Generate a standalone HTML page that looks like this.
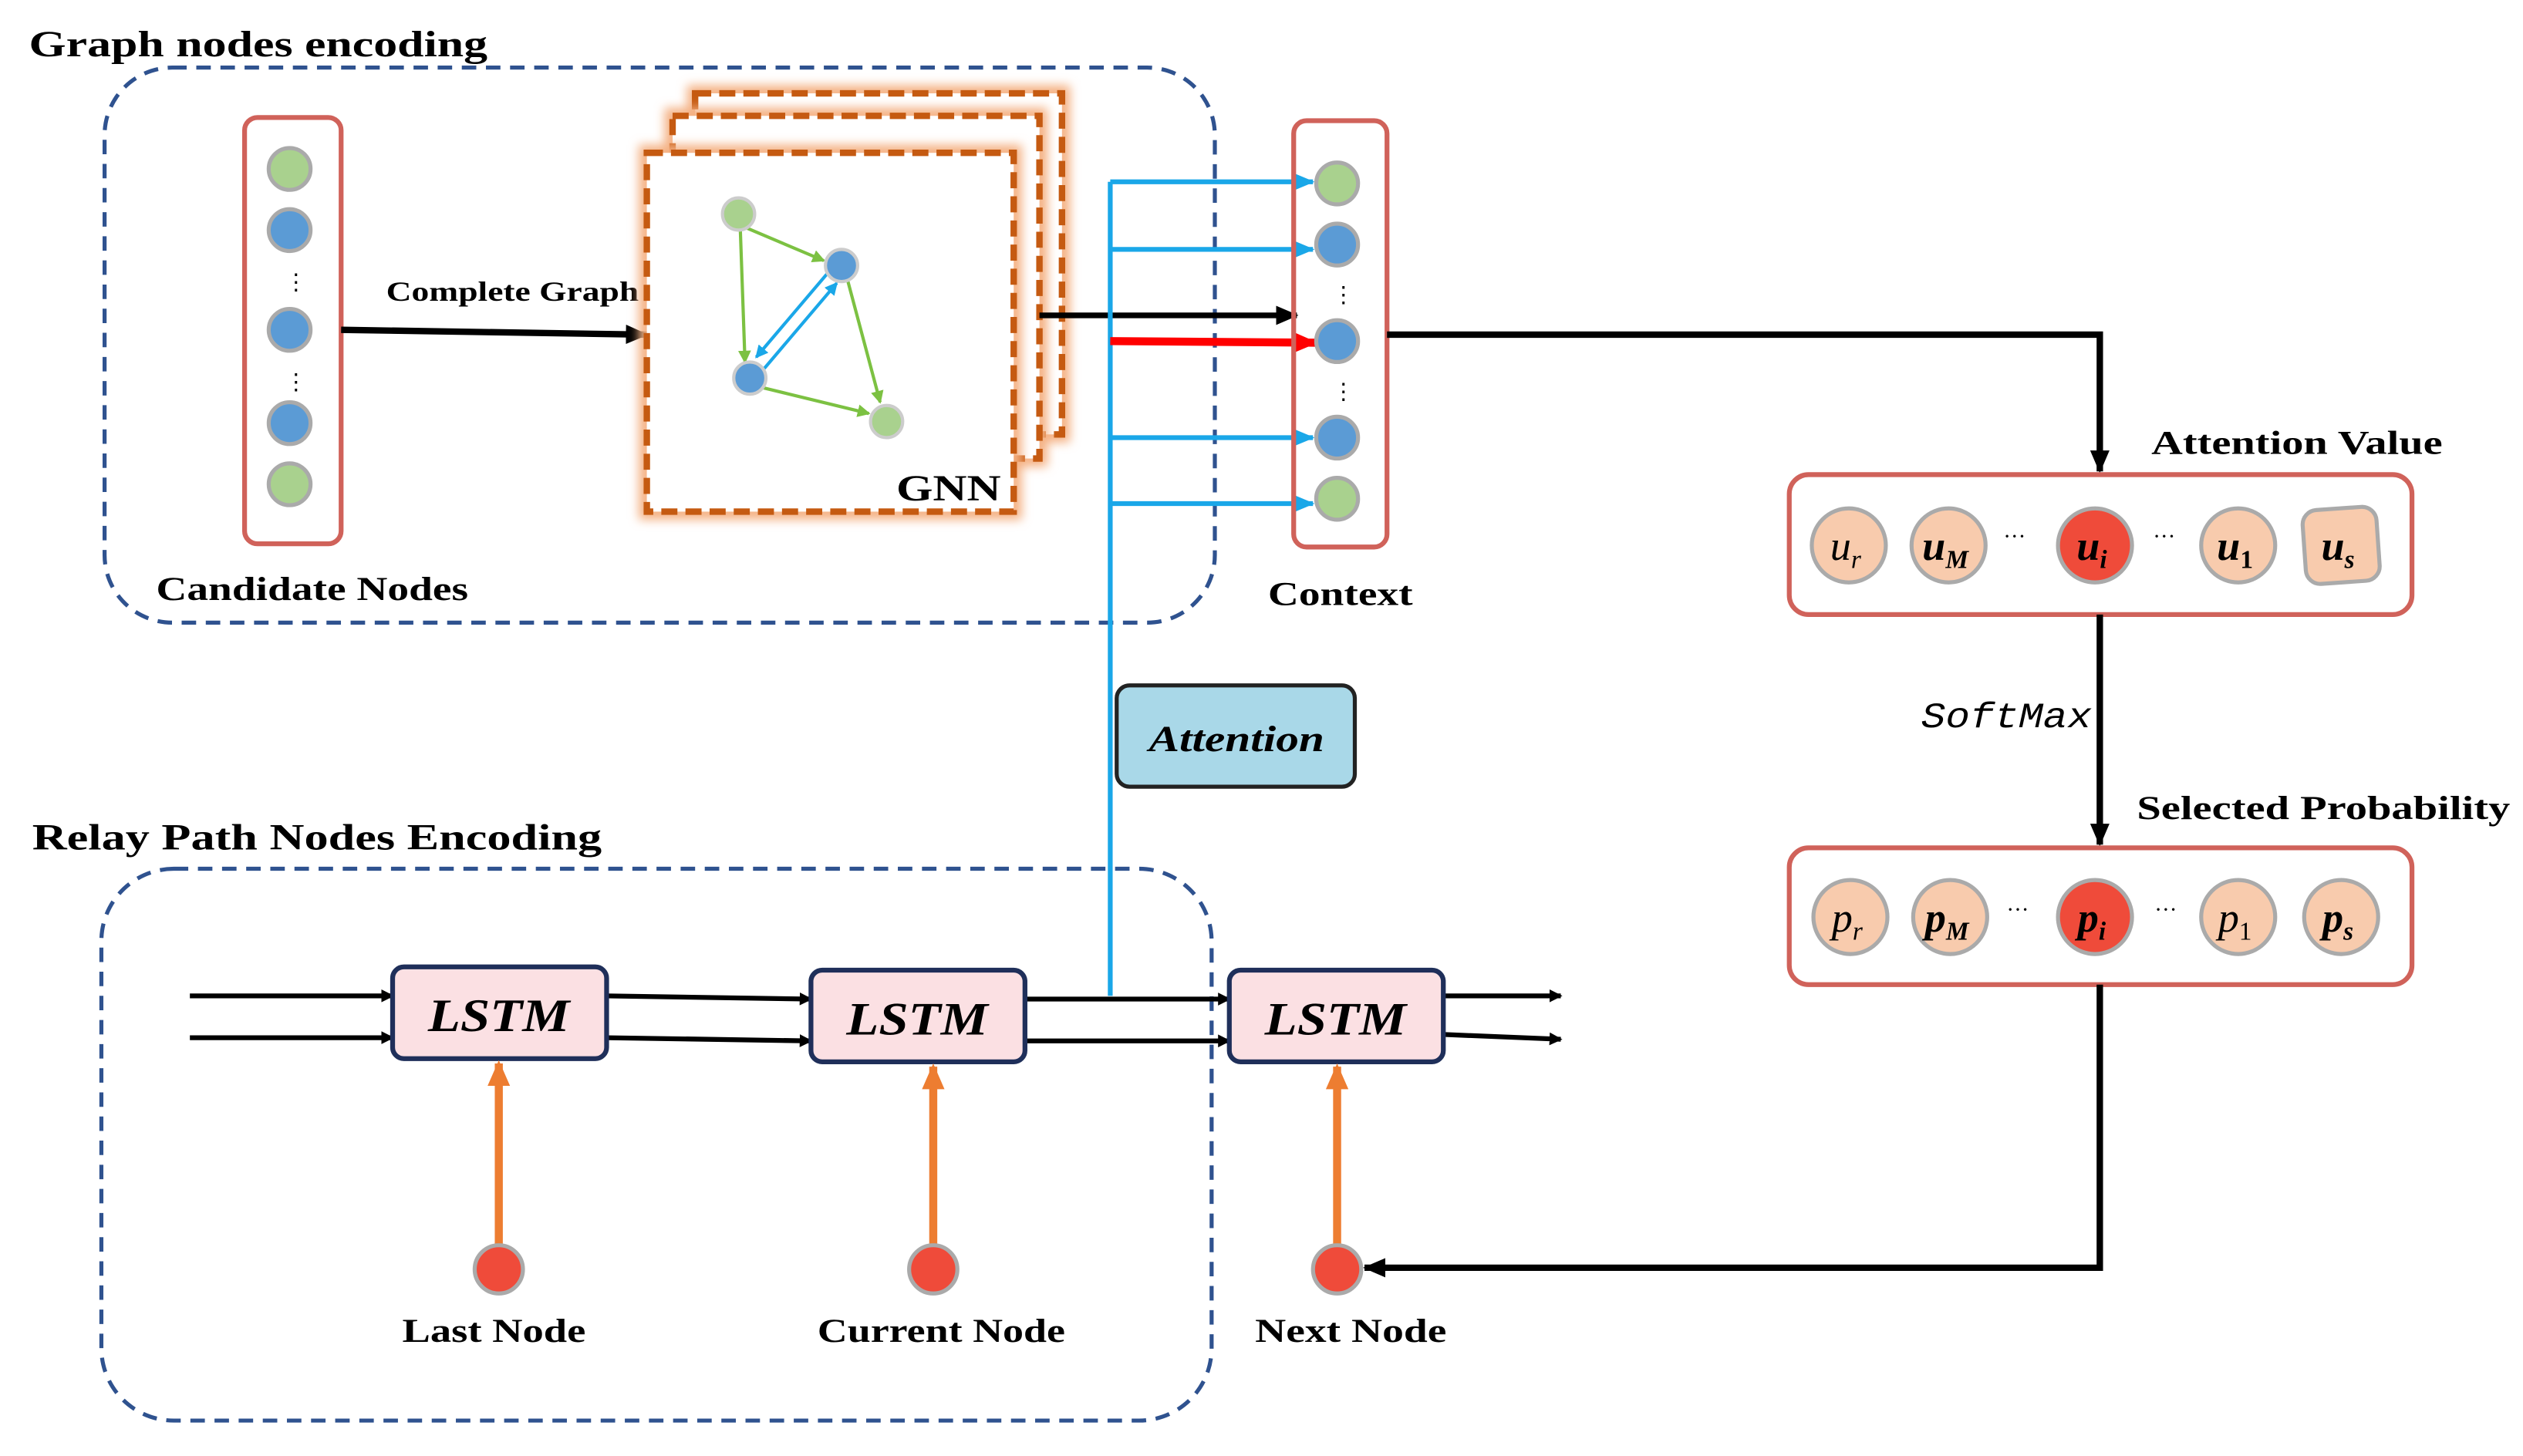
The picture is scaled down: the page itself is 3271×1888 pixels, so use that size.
<!DOCTYPE html>
<html><head><meta charset="utf-8"><style>
html,body{margin:0;padding:0;background:#fff;}
svg{display:block;}
text{font-family:"Liberation Serif",serif;}
</style></head><body>
<svg width="3271" height="1888" viewBox="0 0 1568 905" xmlns="http://www.w3.org/2000/svg">
<defs>
<marker id="ak" markerWidth="8" markerHeight="8" refX="7" refY="4" orient="auto" markerUnits="userSpaceOnUse"><path d="M0,0 L8,4 L0,8 z" fill="#000"/></marker>
<marker id="ak2" markerWidth="14" markerHeight="12" refX="13" refY="6" orient="auto" markerUnits="userSpaceOnUse"><path d="M0,0 L14,6 L0,12 z" fill="#000"/></marker>
<marker id="ab" markerWidth="12" markerHeight="10" refX="11" refY="5" orient="auto" markerUnits="userSpaceOnUse"><path d="M0,0 L12,5 L0,10 z" fill="#1aa7e8"/></marker>
<marker id="ar" markerWidth="14" markerHeight="12" refX="13" refY="6" orient="auto" markerUnits="userSpaceOnUse"><path d="M0,0 L14,6 L0,12 z" fill="#f00"/></marker>
<marker id="ao" markerWidth="16" markerHeight="14" refX="14" refY="7" orient="auto" markerUnits="userSpaceOnUse"><path d="M0,0 L16,7 L0,14 z" fill="#ed7d31"/></marker>
<marker id="ag" markerWidth="8" markerHeight="8" refX="7" refY="4" orient="auto" markerUnits="userSpaceOnUse"><path d="M0,0 L8,4 L0,8 z" fill="#7cc142"/></marker>
<marker id="abl" markerWidth="8" markerHeight="8" refX="7" refY="4" orient="auto" markerUnits="userSpaceOnUse"><path d="M0,0 L8,4 L0,8 z" fill="#1aa7e8"/></marker>
<filter id="glow" x="-10%" y="-10%" width="120%" height="120%"><feGaussianBlur stdDeviation="3"/></filter>
</defs>

<text x="18" y="35" font-size="23" font-weight="bold" textLength="285" lengthAdjust="spacingAndGlyphs">Graph nodes encoding</text>
<rect x="65" y="42" width="690" height="345" rx="42" fill="none" stroke="#2f528f" stroke-width="2.5" stroke-dasharray="9,6"/>

<rect x="152" y="73" width="60" height="265" rx="8" fill="#fff" stroke="#d0625a" stroke-width="3"/>
<g stroke="#aaa" stroke-width="2.5">
<circle cx="180" cy="105" r="13" fill="#a9d18e"/>
<circle cx="180" cy="143" r="13" fill="#5b9bd5"/>
<circle cx="180" cy="205" r="13" fill="#5b9bd5"/>
<circle cx="180" cy="263" r="13" fill="#5b9bd5"/>
<circle cx="180" cy="301" r="13" fill="#a9d18e"/>
</g>
<text x="177" y="180" font-size="14">⋮</text>
<text x="177" y="242" font-size="14">⋮</text>
<text x="97" y="373" font-size="21" font-weight="bold" textLength="194" lengthAdjust="spacingAndGlyphs">Candidate Nodes</text>
<line x1="212" y1="205" x2="402" y2="208" stroke="#000" stroke-width="4" marker-end="url(#ak2)"/>
<text x="240" y="187" font-size="17" font-weight="bold" textLength="157" lengthAdjust="spacingAndGlyphs">Complete Graph</text>

<g>
<rect x="432" y="58" width="228" height="212" fill="none" stroke="#f4b183" stroke-width="10" filter="url(#glow)"/>
<rect x="432" y="58" width="228" height="212" fill="#fff" stroke="#c55a11" stroke-width="4" stroke-dasharray="10,5"/>
<rect x="418" y="72" width="228" height="213" fill="none" stroke="#f4b183" stroke-width="10" filter="url(#glow)"/>
<rect x="418" y="72" width="228" height="213" fill="#fff" stroke="#c55a11" stroke-width="4" stroke-dasharray="10,5"/>
<rect x="402" y="95" width="228" height="223" fill="none" stroke="#f4b183" stroke-width="10" filter="url(#glow)"/>
<rect x="402" y="95" width="228" height="223" fill="#fff" stroke="#c55a11" stroke-width="4" stroke-dasharray="10,5"/>
</g>
<g stroke-width="2">
<line x1="460" y1="140" x2="512" y2="162" stroke="#7cc142" marker-end="url(#ag)"/>
<line x1="460" y1="140" x2="463" y2="225" stroke="#7cc142" marker-end="url(#ag)"/>
<line x1="527" y1="175" x2="547" y2="250" stroke="#7cc142" marker-end="url(#ag)"/>
<line x1="470" y1="240" x2="540" y2="257" stroke="#7cc142" marker-end="url(#ag)"/>
<line x1="475" y1="229" x2="520" y2="176" stroke="#1aa7e8" marker-end="url(#abl)"/>
<line x1="515" y1="169" x2="470" y2="222" stroke="#1aa7e8" marker-end="url(#abl)"/>
</g>
<g stroke="#ccc" stroke-width="2">
<circle cx="459" cy="133" r="10" fill="#a9d18e"/>
<circle cx="523" cy="165" r="10" fill="#5b9bd5"/>
<circle cx="466" cy="235" r="10" fill="#5b9bd5"/>
<circle cx="551" cy="262" r="10" fill="#a9d18e"/>
</g>
<text x="557" y="311" font-size="23" font-weight="bold" textLength="65" lengthAdjust="spacingAndGlyphs">GNN</text>

<line x1="646" y1="196" x2="806" y2="196" stroke="#000" stroke-width="3.5" marker-end="url(#ak2)"/>
<line x1="690" y1="113" x2="690" y2="619" stroke="#1aa7e8" stroke-width="3"/>
<g stroke="#1aa7e8" stroke-width="3">
<line x1="690" y1="113" x2="816" y2="113" marker-end="url(#ab)"/>
<line x1="690" y1="155" x2="816" y2="155" marker-end="url(#ab)"/>
<line x1="690" y1="272" x2="816" y2="272" marker-end="url(#ab)"/>
<line x1="690" y1="313" x2="816" y2="313" marker-end="url(#ab)"/>
</g>
<line x1="690" y1="212" x2="818" y2="213" stroke="#f00" stroke-width="5" marker-end="url(#ar)"/>

<rect x="804" y="75" width="58" height="265" rx="8" fill="none" stroke="#d0625a" stroke-width="3"/>
<g stroke="#aaa" stroke-width="2.5">
<circle cx="831" cy="114" r="13" fill="#a9d18e"/>
<circle cx="831" cy="152" r="13" fill="#5b9bd5"/>
<circle cx="831" cy="212" r="13" fill="#5b9bd5"/>
<circle cx="831" cy="272" r="13" fill="#5b9bd5"/>
<circle cx="831" cy="310" r="13" fill="#a9d18e"/>
</g>
<text x="828" y="188" font-size="14">⋮</text>
<text x="828" y="248" font-size="14">⋮</text>
<text x="788" y="376" font-size="21" font-weight="bold" textLength="90" lengthAdjust="spacingAndGlyphs">Context</text>

<polyline points="862,208 1305,208 1305,293" fill="none" stroke="#000" stroke-width="4" marker-end="url(#ak2)"/>
<text x="1337" y="282" font-size="21" font-weight="bold" textLength="181" lengthAdjust="spacingAndGlyphs">Attention Value</text>
<rect x="1112" y="295" width="387" height="87" rx="12" fill="#fff" stroke="#d0625a" stroke-width="3"/>
<g stroke="#aaa" stroke-width="2.5" fill="#f8cbad">
<circle cx="1149" cy="339" r="23"/>
<circle cx="1211" cy="339" r="23"/>
<circle cx="1302" cy="339" r="23" fill="#ef4b3a"/>
<circle cx="1391" cy="339" r="23"/>
<rect x="1432" y="316" width="46" height="46" rx="9" transform="rotate(-4 1455 339)"/>
</g>
<g font-size="26" font-style="italic" text-anchor="middle">
<text x="1147" y="348">u<tspan font-size="16" dy="5">r</tspan></text>
<text x="1209" y="348" font-weight="bold">u<tspan font-size="16" dy="5">M</tspan></text>
<text x="1300" y="348" font-weight="bold">u<tspan font-size="16" dy="5">i</tspan></text>
<text x="1389" y="348" font-weight="bold">u<tspan font-size="16" dy="5" font-style="normal">1</tspan></text>
<text x="1453" y="348" font-weight="bold">u<tspan font-size="16" dy="5">s</tspan></text>
</g>
<text x="1245" y="338" font-size="14">···</text>
<text x="1338" y="338" font-size="14">···</text>

<line x1="1305" y1="382" x2="1305" y2="525" stroke="#000" stroke-width="4" marker-end="url(#ak2)"/>
<text x="1194" y="452" font-size="22" font-style="italic" style="font-family:'Liberation Mono',monospace" textLength="106" lengthAdjust="spacingAndGlyphs">SoftMax</text>
<text x="1328" y="509" font-size="21" font-weight="bold" textLength="232" lengthAdjust="spacingAndGlyphs">Selected Probability</text>
<rect x="1112" y="527" width="387" height="85" rx="12" fill="#fff" stroke="#d0625a" stroke-width="3"/>
<g stroke="#aaa" stroke-width="2.5" fill="#f8cbad">
<circle cx="1150" cy="570" r="23"/>
<circle cx="1212" cy="570" r="23"/>
<circle cx="1302" cy="570" r="23" fill="#ef4b3a"/>
<circle cx="1391" cy="570" r="23"/>
<circle cx="1455" cy="570" r="23"/>
</g>
<g font-size="26" font-style="italic" text-anchor="middle">
<text x="1148" y="579">p<tspan font-size="16" dy="5">r</tspan></text>
<text x="1210" y="579" font-weight="bold">p<tspan font-size="16" dy="5">M</tspan></text>
<text x="1300" y="579" font-weight="bold">p<tspan font-size="16" dy="5">i</tspan></text>
<text x="1389" y="579">p<tspan font-size="16" dy="5" font-style="normal">1</tspan></text>
<text x="1453" y="579" font-weight="bold">p<tspan font-size="16" dy="5">s</tspan></text>
</g>
<text x="1247" y="570" font-size="14">···</text>
<text x="1339" y="570" font-size="14">···</text>
<polyline points="1305,612 1305,788 848,788" fill="none" stroke="#000" stroke-width="4" marker-end="url(#ak2)"/>

<rect x="694" y="426" width="148" height="63" rx="8" fill="#a9d8e8" stroke="#222" stroke-width="2.5"/>
<text x="714" y="467" font-size="23" font-weight="bold" font-style="italic" textLength="109" lengthAdjust="spacingAndGlyphs">Attention</text>

<text x="20" y="528" font-size="23" font-weight="bold" textLength="354" lengthAdjust="spacingAndGlyphs">Relay Path Nodes Encoding</text>
<rect x="63" y="540" width="690" height="343" rx="45" fill="none" stroke="#2f528f" stroke-width="2.5" stroke-dasharray="9,6"/>

<g stroke="#000" stroke-width="3">
<line x1="118" y1="619" x2="244" y2="619" marker-end="url(#ak)"/>
<line x1="118" y1="645" x2="244" y2="645" marker-end="url(#ak)"/>
<line x1="377" y1="619" x2="504" y2="621" marker-end="url(#ak)"/>
<line x1="377" y1="645" x2="504" y2="647" marker-end="url(#ak)"/>
<line x1="637" y1="621" x2="764" y2="621" marker-end="url(#ak)"/>
<line x1="637" y1="647" x2="764" y2="647" marker-end="url(#ak)"/>
<line x1="897" y1="619" x2="970" y2="619" marker-end="url(#ak)"/>
<line x1="897" y1="643" x2="970" y2="646" marker-end="url(#ak)"/>
</g>
<g fill="#fbe0e3" stroke="#1f2f5a" stroke-width="3">
<rect x="244" y="601" width="133" height="57" rx="7"/>
<rect x="504" y="603" width="133" height="57" rx="7"/>
<rect x="764" y="603" width="133" height="57" rx="7"/>
</g>
<g font-size="29" font-weight="bold" font-style="italic">
<text x="266" y="641" textLength="88" lengthAdjust="spacingAndGlyphs">LSTM</text>
<text x="526" y="643" textLength="88" lengthAdjust="spacingAndGlyphs">LSTM</text>
<text x="786" y="643" textLength="88" lengthAdjust="spacingAndGlyphs">LSTM</text>
</g>
<g stroke="#ed7d31" stroke-width="5">
<line x1="310" y1="773" x2="310" y2="661" marker-end="url(#ao)"/>
<line x1="580" y1="773" x2="580" y2="663" marker-end="url(#ao)"/>
<line x1="831" y1="773" x2="831" y2="663" marker-end="url(#ao)"/>
</g>
<g fill="#ef4b3a" stroke="#aaa" stroke-width="2.5">
<circle cx="310" cy="789" r="15"/>
<circle cx="580" cy="789" r="15"/>
<circle cx="831" cy="789" r="15"/>
</g>
<g font-size="21" font-weight="bold">
<text x="250" y="834" textLength="114" lengthAdjust="spacingAndGlyphs">Last Node</text>
<text x="508" y="834" textLength="154" lengthAdjust="spacingAndGlyphs">Current Node</text>
<text x="780" y="834" textLength="119" lengthAdjust="spacingAndGlyphs">Next Node</text>
</g>
</svg>
</body></html>
